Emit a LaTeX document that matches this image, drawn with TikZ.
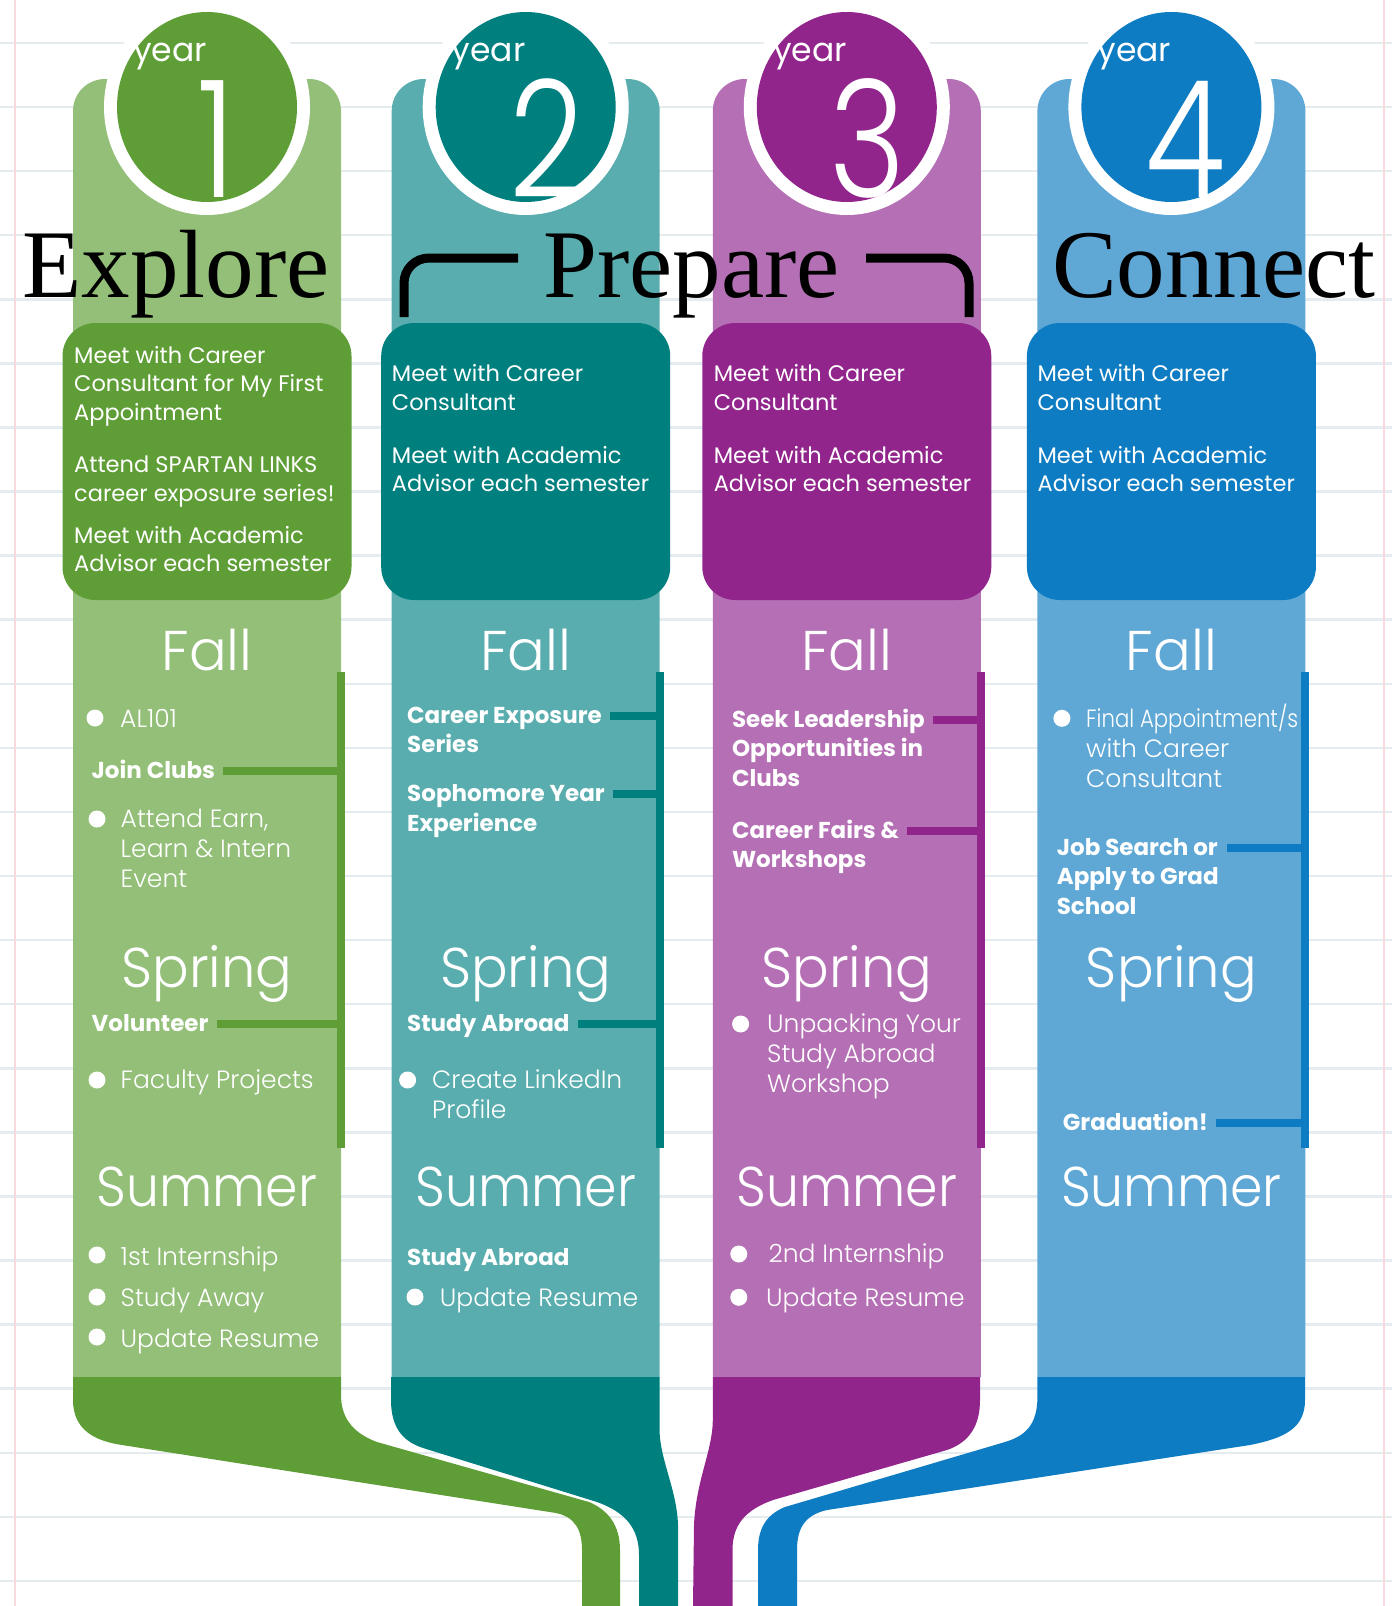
\documentclass[tikz,border=0pt]{standalone}
\usepackage{fontspec}
\setmainfont{Poppins}
\newfontfamily\thinfont{Poppins Light}
\newfontfamily\serifhead{Liberation Serif}
\usetikzlibrary{calc}

\definecolor{GD}{HTML}{5F9E36}
\definecolor{GL}{HTML}{93BF78}
\definecolor{TD}{HTML}{007F7F}
\definecolor{TL}{HTML}{5AADAE}
\definecolor{PD}{HTML}{91258C}
\definecolor{PL}{HTML}{B570B5}
\definecolor{BD}{HTML}{0E7CC2}
\definecolor{BL}{HTML}{5FA8D6}
\definecolor{RULE}{HTML}{E4ECEF}
\definecolor{MARGIN}{HTML}{F8D9DD}

\newcommand\txtlines[1]{\vtop{\halign{##\hfil\cr#1\crcr}}}

\tikzset{
  boxtxt/.style={anchor=base west, inner sep=0pt, text=white, font=\fontsize{22.5}{28.5}\selectfont},
  itemtxt/.style={anchor=base west, inner sep=0pt, text=white, font=\thinfont\fontsize{25}{30}\selectfont},
  tagtxt/.style={anchor=base west, inner sep=0pt, text=white, font=\bfseries\fontsize{23}{29.5}\selectfont},
  season/.style={anchor=base, inner sep=0pt, text=white, font=\thinfont\fontsize{56}{56}\selectfont},
  yeartxt/.style={anchor=base west, inner sep=0pt, text=white, font=\fontsize{33}{33}\selectfont},
  numtxt/.style={anchor=base, inner sep=0pt, text=white, font=\thinfont\fontsize{163}{163}\selectfont},
  motto/.style={anchor=base west, inner sep=0pt, text=black, font=\serifhead\fontsize{97}{97}\selectfont},
  dot/.style={circle, fill=white, inner sep=0pt, minimum size=17pt},
  link/.style={line width=8pt},
}

\begin{document}
\begin{tikzpicture}[x=1pt, y=-1pt]
\useasboundingbox (0,0) rectangle (1392,1606);
\fill[white] (0,0) rectangle (1392,1606);
\foreach \k in {0,...,24}
  \draw[RULE, line width=2.5pt] (0,{43+64.08*\k}) -- (1392,{43+64.08*\k});
\draw[MARGIN, line width=1.5pt] (15,0) -- (15,1606) (1384,0) -- (1384,1606);

% columns, circles, boxes, seasons
\foreach \cx/\dk/\lt/\n/\dx in {73/GD/GL/1/143.5, 391.7/TD/TL/2/155, 712.8/PD/PL/3/155, 1037.4/BD/BL/4/148}{
  \fill[\lt] (\cx,1377) [rounded corners=32pt] -- (\cx,79) -- ({\cx+268},79) [sharp corners] -- ({\cx+268},1377) -- cycle;
  \fill[white] ({\cx+134},107) ellipse [x radius=103, y radius=108];
  \fill[\dk] ({\cx+134},107) ellipse [x radius=90, y radius=95];
  \node[yeartxt] (YEAR\n) at ({\cx+60},61) {year};
  \node[numtxt] (NUM\n) at ({\cx+\dx},197) {\scalebox{0.8}[1]{\n}};
  \fill[\dk, rounded corners=33pt] ({\cx-10.5},323) rectangle ({\cx+278.5},600);
  \node[season] (FALL\n) at ({\cx+134},670) {Fall};
  \node[season] (SPRING\n) at ({\cx+134},987) {\scalebox{0.97}[1]{Spring}};
  \node[season] (SUMMER\n) at ({\cx+134},1206) {\scalebox{0.93}[1]{Summer}};
  \coordinate (BAR\n) at ({\cx+268},672);
  \draw[\dk, line width=8pt] (BAR\n) -- ({\cx+268},1148);
}

% branches
\fill[GD] (73,1377) -- (73,1400) .. controls (73,1430) and (95,1441) .. (122,1445) -- (556,1513)
  .. controls (575,1517) and (582,1530) .. (582,1550) -- (582,1606) -- (620,1606) -- (620,1550)
  .. controls (620,1525) and (608,1510) .. (589,1502) -- (377,1442)
  .. controls (350,1432) and (341,1415) .. (341,1395) -- (341,1377) -- cycle;
\fill[TD] (391,1377) -- (391,1400) .. controls (391,1430) and (405,1442) .. (423,1448) -- (597,1502)
  .. controls (625,1512) and (639,1528) .. (639,1555) -- (639,1606) -- (678,1606) -- (678,1525)
  .. controls (677,1490) and (660,1460) .. (659.5,1430) -- (659.5,1377) -- cycle;
\fill[PD] (712.8,1377) -- (712.8,1420) .. controls (712.8,1450) and (696,1480) .. (694,1525)
  -- (693,1606) -- (732.5,1606) -- (732.5,1550) .. controls (732.5,1525) and (745,1510) .. (773,1500)
  -- (947,1450) .. controls (970,1442) and (980,1425) .. (980,1400) -- (980,1377) -- cycle;
\fill[BD] (1037.4,1377) -- (1037.4,1397) .. controls (1037.4,1425) and (1025,1436) .. (1005,1442)
  -- (785,1507) .. controls (765,1515) and (758,1530) .. (758,1550) -- (758,1606) -- (797,1606)
  -- (797,1550) .. controls (797,1528) and (805,1515) .. (827,1510) -- (1250,1445)
  .. controls (1285,1438) and (1305,1428) .. (1305,1400) -- (1305,1377) -- cycle;

% titles
\node[motto] (EXPLORE) at (22.5,297) {Explore};
\node[motto] (PREPARE) at (543,297) {Prepare};
\node[motto] (CONNECT) at (1052,297) {Connect};
\draw[line width=9pt, rounded corners=25pt] (404,317) -- (404,258) -- (518,258)
  (866,258) -- (969,258) -- (969,317);

% box texts
\node[boxtxt] (MEET1) at (74,363) {\txtlines{Meet with Career\cr Consultant for My First\cr Appointment}};
\node[boxtxt] (LINKS1) at (74,472.7) {\txtlines{Attend SPARTAN LINKS\cr career exposure series!}};
\node[boxtxt] (ADV1) at (74,543) {\txtlines{Meet with Academic\cr Advisor each semester}};
\foreach \tx/\n in {391.7/2, 713.6/3, 1037.4/4}{
  \node[boxtxt] (MEET\n) at (\tx,381.7) {\txtlines{Meet with Career\cr Consultant}};
  \node[boxtxt] (ADV\n) at (\tx,463) {\txtlines{Meet with Academic\cr Advisor each semester}};
}

% year 1
\node[dot] (D1A) at (95,718) {};
\node[itemtxt] (AL) at (120,727) {AL101};
\node[tagtxt] (CLUBS) at (91.5,778) {Join Clubs};
\node[dot] (D1B) at (97,819) {};
\node[itemtxt] (EARN) at (120.5,827) {\txtlines{Attend Earn,\cr Learn \& Intern\cr Event}};
\node[tagtxt] (VOL) at (91.5,1031.7) {Volunteer};
\node[dot] (D1C) at (97,1080) {};
\node[itemtxt] (FAC) at (120.5,1088) {Faculty Projects};
\node[dot] (D1D) at (97,1255) {};
\node[itemtxt] (INT1) at (120.5,1265) {1st Internship};
\node[dot] (D1E) at (97,1297) {};
\node[itemtxt] (AWAY) at (120.5,1306) {Study Away};
\node[dot] (D1F) at (97,1337) {};
\node[itemtxt] (RES1) at (120.5,1347) {Update Resume};

% year 2
\node[tagtxt] (CES) at (407,723.3) {\txtlines{Career Exposure\cr Series}};
\node[tagtxt] (SYE) at (407,801.7) {\txtlines{Sophomore Year\cr Experience}};
\node[tagtxt] (ABR2) at (407,1031.7) {Study Abroad};
\node[dot] (D2A) at (407.6,1080) {};
\node[itemtxt] (LINKED) at (432,1088) {\txtlines{Create LinkedIn\cr Profile}};
\node[tagtxt] (ABR2S) at (407,1265) {Study Abroad};
\node[dot] (D2B) at (415,1297) {};
\node[itemtxt] (RES2) at (439.7,1306) {Update Resume};

% year 3
\node[tagtxt] (LEAD) at (731.8,727.3) {\txtlines{Seek Leadership\cr Opportunities in\cr Clubs}};
\node[tagtxt] (FAIRS) at (731.8,838.3) {\txtlines{Career Fairs \&\cr Workshops}};
\node[dot] (D3A) at (740.6,1024) {};
\node[itemtxt] (UNPACK) at (767,1032.7) {\txtlines{Unpacking Your\cr Study Abroad\cr Workshop}};
\node[dot] (D3B) at (738.8,1254) {};
\node[itemtxt] (INT2) at (768.4,1262.7) {2nd Internship};
\node[dot] (D3C) at (738.8,1297.3) {};
\node[itemtxt] (RES3) at (766,1306) {Update Resume};

% year 4
\node[dot] (D4A) at (1061.9,718.3) {};
\node[itemtxt] (FINAL) at (1086,727.3) {\txtlines{\scalebox{0.85}[1]{Final Appointment/s}\cr with Career\cr Consultant}};
\node[tagtxt] (JOB) at (1056.6,855) {\txtlines{Job Search or\cr Apply to Grad\cr School}};
\node[tagtxt] (GRAD) at (1062.7,1130) {Graduation!};

% links to the bars
\foreach \lab/\bar/\col in {CLUBS/BAR1/GD, VOL/BAR1/GD, CES/BAR2/TD, SYE/BAR2/TD, ABR2/BAR2/TD,
    LEAD/BAR3/PD, FAIRS/BAR3/PD, JOB/BAR4/BD, GRAD/BAR4/BD}{
  \path (\lab.base east) ++(8,-7.5) coordinate (L\lab);
  \draw[link, \col] (L\lab) -- (L\lab -| \bar);
}
\end{tikzpicture}
\end{document}
